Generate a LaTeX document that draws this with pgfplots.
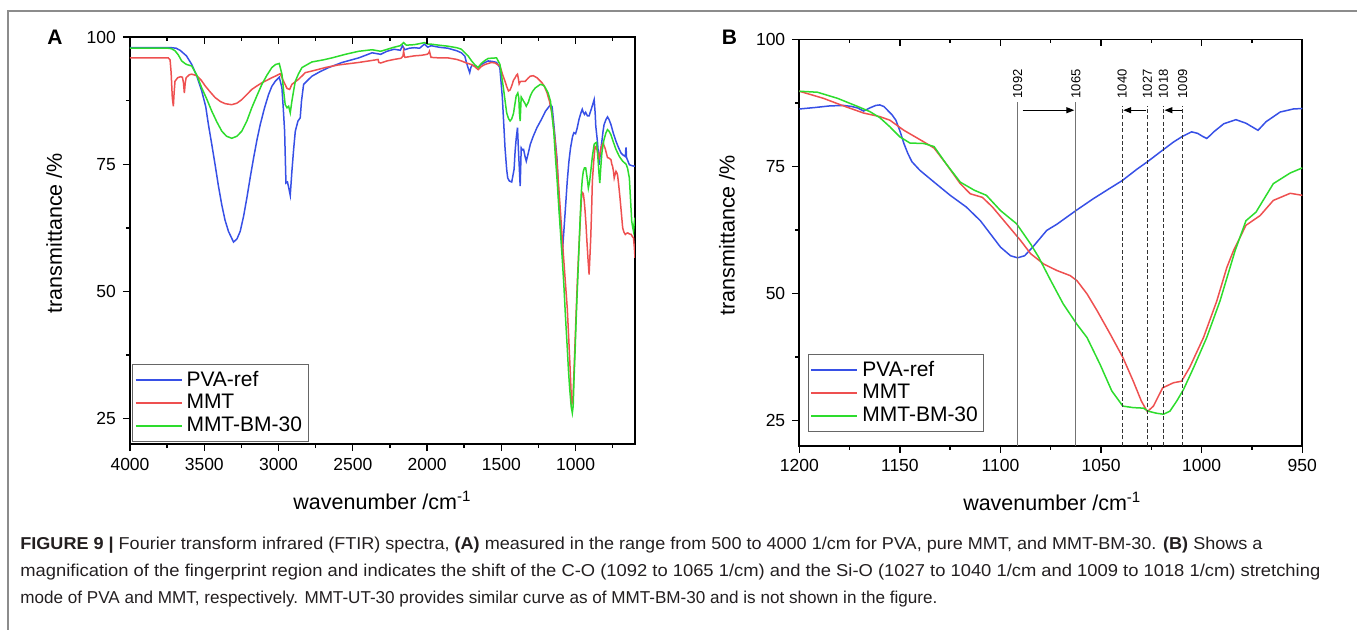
\documentclass[border=0pt]{standalone}
\usepackage{fontspec}
\setmainfont{Liberation Sans}
\usepackage{graphicx}
\usepackage{pgfplots}
\pgfplotsset{compat=1.18}
\usetikzlibrary{arrows.meta}

\definecolor{cblue}{RGB}{55,80,230}
\definecolor{cred}{RGB}{238,80,80}
\definecolor{cgreen}{RGB}{45,220,45}
\definecolor{capgray}{RGB}{35,31,32}

\pgfplotsset{
  ftir/.style={
    scale only axis, anchor=south west, x dir=reverse,
    ymin=20, ymax=100, ytick={25,50,75,100}, minor ytick={37.5,62.5,87.5},
    axis line style={line width=0.8pt},
    major tick length=3.5pt, minor tick length=2pt,
    every tick/.style={line width=0.7pt, black},
    tick label style={font=\fontsize{8.75}{10}\selectfont},
    label style={font=\fontsize{10.75}{12}\selectfont},
    /pgf/number format/assume math mode=true,
    /pgf/number format/1000 sep={},
    every axis plot/.append style={line width=0.75pt},
  },
  mainax/.style={ftir, tick align=outside, xtick pos=left, ytick pos=left,
    xlabel={wavenumber /cm\textsuperscript{-1}}, ylabel={transmittance /\%},
    legend cell align=left,
    legend image code/.code={\draw[##1, line width=1pt] (0pt,0pt) -- (23pt,0pt);},
  },
  topax/.style={ftir, tick align=inside, xtick pos=right, ytick=\empty,
    minor ytick=\empty, xticklabels={}, axis line style={draw=none}},
  panelA/.style={at={(65pt,-222pt)}, width=252.5pt, height=203.5pt,
    xmin=600, xmax=4000, xtick={1000,1500,...,4000}, minor xtick={750,1250,...,3750}},
  panelB/.style={at={(399.65pt,-222.85pt)}, width=251.5pt, height=203.15pt,
    xmin=950, xmax=1200, xtick={950,1000,...,1200}, minor xtick={975,1025,...,1175}},
}
\tikzset{
  vsolid/.style={black!55, line width=0.45pt},
  vdash/.style={black!80, line width=0.6pt, dash pattern=on 2pt off 1.2pt},
  vlab/.style={rotate=90, anchor=west, inner sep=0pt, font=\fontsize{6.5}{7}\selectfont},
  shiftarrow/.style={-{Triangle[length=4pt,width=3pt]}, line width=0.6pt},
}

\begin{document}
\begin{tikzpicture}
\useasboundingbox (0,0) rectangle (678.5pt,-314.5pt);
\draw[black!45, line width=0.7pt] (4pt,-5.5pt) rectangle (690pt,-330pt);

% panel A
\begin{axis}[mainax, panelA,
  xlabel style={at={(axis description cs:0.5,-0.1376)}, anchor=center},
  ylabel style={at={(axis description cs:-0.150,0.518)}, anchor=center},
  legend style={at={(0.004,0.005)}, anchor=south west, draw=black!60, line width=0.5pt,
    font=\fontsize{10.5}{12}\selectfont, inner xsep=1pt, inner ysep=1.5pt, row sep=-1.5pt}]
\addplot[cblue] coordinates {
(4000,97.9) (3720,97.9) (3690,97.8) (3663,97.4) (3620,96.3) (3584,94.6) (3550,92.3) (3517,89.4)
(3490,86.3) (3472,82.8) (3450,79) (3427,74.9) (3405,70.8) (3382,67) (3360,64) (3337,61.8)
(3303,59.7) (3280,60.3) (3258,61.8) (3235,64.8) (3213,68.4) (3190,72.5) (3168,76.2) (3145,79.8)
(3123,82.8) (3095,86) (3067,88.7) (3045,90.3) (3022,91.3) (2995,92.1) (2977,90) (2968,86)
(2959,81.5) (2950,71.3) (2940,71.5) (2932,70.5) (2921,68.9) (2910,73.6) (2898,78) (2887,81.5)
(2869,83.5) (2854,84.1) (2845,87.5) (2831,90.7) (2800,91.6) (2775,92.3) (2720,93.2) (2662,94)
(2572,95) (2460,95.9) (2370,96.9) (2312,96.6) (2270,97.2) (2222,97.6) (2180,97.4) (2165,98.3)
(2150,97.5) (2120,97.8) (2086,97.9) (2050,97.8) (2018,98.6) (1995,98.0) (1973,98.3) (1920,98.0)
(1860,97.8) (1800,97.3) (1769,96.9) (1745,96.2) (1735,95) (1722,93.8) (1713,93) (1705,94.0)
(1697,94.5) (1675,94.3) (1656,94) (1634,94.6) (1610,95.0) (1588,95.3) (1560,95.2) (1532,95.0)
(1510,94) (1493,88.1) (1475,78.2) (1464,74) (1457,72.3) (1446,71.7) (1430,71.5) (1414,74)
(1407,77.6) (1400,80) (1391,82.2) (1385,78) (1380,75) (1373,70.7) (1366,78.2) (1358,77.8)
(1350,77.9) (1340,76.5) (1332,75.6) (1320,77) (1305,78.9) (1285,80.5) (1260,82.2) (1230,83.8)
(1203,85.4) (1169,86.7) (1158,86.3) (1147,83) (1136,79.5) (1125,76) (1113,68.4) (1102,63)
(1097,61.2) (1090,57.2) (1079,61.8) (1068,66.5) (1056,71.7) (1045,75.5) (1034,78.2) (1020,80.5)
(1011,81.2) (1000,81) (990,82) (977,83.8) (965,85.0) (955,85.8) (948,85.2) (940,84.8)
(932,85.2) (920,84.5) (909,84.5) (898,85.5) (887,86.5) (875,87.7) (868,85) (864,82.5)
(853,79.5) (841,74.9) (832,77.5) (823,79.5) (815,81.5) (808,82.8) (795,83.8) (785,84.3)
(775,83.8) (762,82.8) (745,81) (728,79.5) (710,78.2) (694,77.2) (680,76.8) (665,76.5)
(662,77.9) (660,78.3) (657,76.3) (650,75.8) (638,74.9) (620,74.7) (600,74.6)
};
\addplot[cred] coordinates {
(4000,95.9) (3742,95.9) (3730,95.5) (3723,93) (3715,88) (3708,86.4) (3703,89) (3697,91.3)
(3679,92) (3660,92.2) (3647,92.1) (3640,91) (3634,89) (3628,91) (3622,92) (3600,92.6)
(3584,92.7) (3551,92.4) (3520,91.5) (3494,90.4) (3460,89.2) (3427,88.1) (3390,87.3) (3359,86.9)
(3315,86.7) (3280,87) (3247,87.7) (3213,88.7) (3180,89.7) (3145,90.4) (3112,91) (3078,91.5)
(3045,92) (3015,92.4) (2989,92.8) (2966,91.3) (2943,89.9) (2925,89.7) (2910,90.7) (2887,91.2)
(2865,91.7) (2840,92.4) (2820,93) (2750,93.5) (2685,94) (2600,94.5) (2460,95) (2348,95.5)
(2330,95.6) (2325,95) (2312,94.9) (2270,95.3) (2222,95.6) (2180,95.8) (2172,95.9) (2162,96.3)
(2158,97.2) (2152,96.2) (2149,96.0) (2086,96.3) (2040,96.4) (2000,96.6) (1990,96.8) (1984,97.2)
(1978,96.5) (1973,96.0) (1920,95.9) (1860,95.9) (1800,95.6) (1769,95.3) (1735,94.9) (1701,94.6)
(1680,94.2) (1656,93.6) (1635,94.2) (1611,94.6) (1588,94.8) (1566,95.0) (1543,94.9) (1509,94.3)
(1490,92.5) (1475,91.3) (1463,90.2) (1452,89.4) (1441,89.6) (1430,90.4) (1418,91.5) (1407,92.0)
(1398,92.5) (1391,92.7) (1385,91.8) (1380,90.8) (1373,91.2) (1366,91.3) (1350,91.3) (1339,91.3)
(1320,91.9) (1305,92.3) (1285,92.4) (1260,92.0) (1226,91) (1210,90.3) (1192,89) (1175,87.3)
(1158,84.8) (1140,80.2) (1124,74.9) (1107,67.8) (1090,60.5) (1073,53.5) (1056,46.7) (1046,40.7)
(1038,35.6) (1032,31.5) (1027,27.7) (1022,28.2) (1018,29) (1011,34) (1004,39.6) (996,46)
(988,52) (980,57.2) (972,61.8) (965,65.8) (959,69) (953,69.4) (948,69.2) (942,67.8)
(936,65.8) (930,63.2) (925,60.5) (916,56.2) (909,53.3) (904,56.5) (898,60.5) (892,66)
(887,71.7) (878,75.5) (869,78.5) (860,78.2) (853,77.6) (847,76.8) (841,76.3) (835,77.2)
(830,78.1) (822,78.8) (814,79.2) (808,78.6) (801,78.1) (793,77.2) (785,76.3) (775,76.2)
(762,75.9) (756,75) (751,74.6) (745,73.6) (740,72.3) (734,73) (728,73.6) (722,73.3)
(717,72.8) (710,71) (701,68.4) (692,65.5) (683,62.5) (674,61.6) (665,61.2) (657,61.4)
(649,61.5) (638,61.3) (626,61.2) (618,60.8) (610,60.5) (604,58.5) (600,56.6)
};
\addplot[cgreen] coordinates {
(4000,97.8) (3742,97.8) (3720,97.7) (3697,97.3) (3675,96.5) (3652,95.3) (3630,94.8) (3618,94.6)
(3584,94.3) (3550,92.5) (3517,90) (3483,87.8) (3449,85.4) (3415,83.3) (3382,81.5) (3350,80.5)
(3315,80.1) (3280,80.5) (3247,81.5) (3213,83.5) (3180,86.1) (3145,88.5) (3112,90.7) (3078,92.5)
(3045,94) (3020,94.6) (2995,94.8) (2977,92.7) (2966,89.5) (2955,86.7) (2943,86.1) (2932,86.4)
(2921,85.1) (2910,87.4) (2898,89.5) (2887,91.3) (2865,92.8) (2842,94) (2800,94.7) (2775,95.1)
(2700,95.5) (2640,95.9) (2550,96.6) (2460,97.2) (2370,97.5) (2312,97.2) (2222,98.0) (2180,98.3)
(2158,98.9) (2140,98.4) (2086,98.5) (2050,98.7) (2018,98.9) (1995,98.6) (1973,98.6) (1920,98.4)
(1860,98.2) (1800,97.9) (1769,97.6) (1745,96.9) (1724,96.3) (1700,95.3) (1680,94.6) (1656,94)
(1635,94.8) (1610,95.4) (1588,95.8) (1532,95.9) (1509,94.6) (1486,90) (1464,85.1) (1452,84.0)
(1441,83.5) (1430,83.9) (1418,85.0) (1400,88.4) (1389,89) (1382,88) (1378,85) (1373,83.5)
(1368,87) (1366,88.2) (1358,87.8) (1350,87.4) (1340,86.9) (1332,86.4) (1318,87.2) (1305,88.4)
(1290,89.3) (1271,90) (1237,90.7) (1215,90.5) (1203,90) (1185,89) (1169,87.4) (1158,84.5)
(1147,81.5) (1136,76.5) (1124,71.7) (1113,66.5) (1102,61.8) (1090,56.5) (1079,51.3) (1068,45)
(1056,38.9) (1048,34.5) (1040,31) (1030,27.5) (1022,26.1) (1016,27.5) (1011,32.3) (1003,38.5)
(995,45.4) (986,52) (977,58.5) (969,64.5) (961,69.7) (955,72) (948,73.6) (940,74.3)
(932,74.3) (923,72.5) (914,70.3) (906,71.5) (898,73.5) (887,76.5) (875,78.9) (866,79.2)
(859,79.3) (853,77.5) (848,75.6) (842,73) (837,71.3) (830,74.5) (823,77.2) (815,78.8)
(808,79.9) (795,81.2) (785,81.8) (775,81.5) (762,80.8) (745,79.3) (728,77.9) (705,76.5)
(683,75.6) (660,75.0) (650,74.2) (638,72.3) (628,67) (622,63.8) (615,62.5) (610,61.8)
(604,63.8) (600,64.5)
};
\legend{PVA-ref, MMT, MMT-BM-30}
\end{axis}
\begin{axis}[topax, panelA]
\end{axis}

% panel B
\begin{axis}[mainax, panelB,
  xlabel style={at={(axis description cs:0.503,-0.1376)}, anchor=center},
  ylabel style={at={(axis description cs:-0.144,0.518)}, anchor=center},
  legend style={at={(0.017,0.034)}, anchor=south west, draw=black!60, line width=0.5pt,
    font=\fontsize{10.5}{12}\selectfont, inner xsep=1pt, inner ysep=1.5pt, row sep=-1.5pt}]
\addplot[cblue] coordinates {
(1200,86.3) (1192,86.6) (1185,86.9) (1178,87) (1174,86.8) (1171,86.5) (1168,85.9) (1165,86.5)
(1162,87.0) (1160,87.1) (1158,86.8) (1156,86.0) (1154,85.2) (1152,84.1) (1150,82) (1148,79.5)
(1146,77.5) (1144,75.9) (1140,74.2) (1133,71.9) (1125,69.3) (1117,67) (1110,64.3) (1105,61.7)
(1100,59.1) (1095,57.4) (1091.5,57) (1088,57.4) (1084,59.1) (1077,62.4) (1072,63.6) (1062.5,66.3)
(1054,68.6) (1046,70.6) (1039.5,72.2) (1032,74.5) (1027,75.9) (1019.4,78.2) (1014,79.8) (1009.6,80.9)
(1005,81.8) (1002,81.5) (999.5,80.9) (997.5,80.5) (995.5,81.2) (994,81.8) (989,83.4) (983,84.2)
(978,83.5) (975,82.8) (972,82.1) (968,83.8) (961,85.7) (954.5,86.3) (950,86.4)
};
\addplot[cred] coordinates {
(1200,89.8) (1188,88.4) (1178,86.9) (1168,85.5) (1160,84.8) (1155,84.1) (1148,82.1) (1138,79.8)
(1133,78.6) (1127,75.5) (1120,71.6) (1115,69.6) (1109,68.9) (1104,67) (1097,63.7) (1090,60.4)
(1085,57.8) (1078.6,55.8) (1072,54.5) (1065.4,53.5) (1062,52.5) (1057,49.9) (1052,46.6) (1045.5,42)
(1039.2,37.4) (1034,32.7) (1030,28.8) (1027,26.7) (1024,27.8) (1019.4,31.4) (1014,32.4) (1010,32.7)
(1006,35.4) (999.1,41.3) (992.5,48.5) (987.5,55.1) (984.2,58.4) (978,63.4) (971,65.3) (964.4,68.3)
(956,69.7) (950,69.3)
};
\addplot[cgreen] coordinates {
(1200,89.8) (1191,89.6) (1181,88.4) (1171,86.8) (1165,85.8) (1160,84.6) (1155,82.8) (1150,80.8)
(1145,79.6) (1138,79.5) (1133,78.9) (1127,75.5) (1120,71.9) (1113,70.3) (1107,69.3) (1100,66.3)
(1092,63.7) (1085,59.7) (1081,57.1) (1075,52.5) (1068.8,47.9) (1062,43.9) (1057,41.3) (1050.5,36)
(1044.7,30.8) (1039.2,27.8) (1034,27.5) (1029,27.4) (1026.6,26.8) (1022.5,26.4) (1019,26.2) (1015.8,26.8)
(1012.4,28.8) (1009,31.1) (1004,35.4) (997.5,41.3) (990.9,48.5) (985.9,55.1) (983.4,58.4) (978,64.3)
(973,66) (964.4,71.6) (956,73.7) (950,74.7)
};
\legend{PVA-ref, MMT, MMT-BM-30}
% marker lines and shifts
\draw[vsolid] (axis cs:1091.5,20) -- (axis cs:1091.5,87.7);
\draw[vsolid] (axis cs:1062.5,20) -- (axis cs:1062.5,87.7);
\draw[vdash] (axis cs:1039.5,20) -- (axis cs:1039.5,86.8);
\draw[vdash] (axis cs:1027,20) -- (axis cs:1027,86.8);
\draw[vdash] (axis cs:1019,20) -- (axis cs:1019,86.8);
\draw[vdash] (axis cs:1009.5,20) -- (axis cs:1009.5,86.8);
\node[vlab] at (axis cs:1091.5,88.3) {1092};
\node[vlab] at (axis cs:1062.5,88.3) {1065};
\node[vlab] at (axis cs:1039.5,88.3) {1040};
\node[vlab] at (axis cs:1027,88.3) {1027};
\node[vlab] at (axis cs:1019,88.3) {1018};
\node[vlab] at (axis cs:1009.5,88.3) {1009};
\draw[shiftarrow] (axis cs:1089,86.06) -- (axis cs:1063.3,86.06);
\draw[shiftarrow] (axis cs:1027.5,86.06) -- (axis cs:1039,86.06);
\draw[shiftarrow] (axis cs:1010,86.06) -- (axis cs:1018.5,86.06);
\end{axis}
\begin{axis}[topax, panelB]
\end{axis}

\node[font=\fontsize{10.5}{12}\selectfont\bfseries] at (27.5pt,-18.75pt) {A};
\node[font=\fontsize{10.5}{12}\selectfont\bfseries] at (364.75pt,-18.75pt) {B};

% caption
\begin{scope}[every node/.style={anchor=base west, inner sep=0pt, text=capgray,
    font=\fontsize{8.6}{10}\selectfont}]
\node at (10pt,-274.5pt) {\resizebox{621pt}{\height}{\textbf{FIGURE 9 |} Fourier transform infrared (FTIR) spectra, \textbf{(A)} measured in the range from 500 to 4000 1/cm for PVA, pure MMT, and MMT-BM-30. \textbf{(B)} Shows a}};
\node at (10pt,-288pt) {\resizebox{650pt}{\height}{magnification of the fingerprint region and indicates the shift of the C-O (1092 to 1065 1/cm) and the Si-O (1027 to 1040 1/cm and 1009 to 1018 1/cm) stretching}};
\node at (10pt,-301.5pt) {\resizebox{458.5pt}{\height}{mode of PVA and MMT, respectively. MMT-UT-30 provides similar curve as of MMT-BM-30 and is not shown in the figure.}};
\end{scope}
\end{tikzpicture}
\end{document}
